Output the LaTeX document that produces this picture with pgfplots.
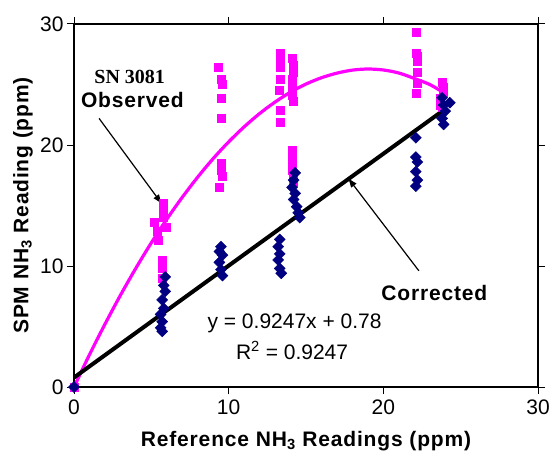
\documentclass[border=0pt]{standalone}
\usepackage{fontspec}
\setmainfont{Liberation Sans}
\newfontfamily\serifb{Liberation Serif}
\newfontfamily\spaced[LetterSpace=4]{Liberation Sans}
\usepackage{pgfplots}
\pgfplotsset{compat=1.18}
\usetikzlibrary{arrows.meta}
\definecolor{obs}{RGB}{255,0,255}
\definecolor{cor}{RGB}{0,0,128}
\begin{document}
\begin{tikzpicture}
\useasboundingbox (0,0) rectangle (549pt,453pt);
\begin{axis}[
  at={(74pt,66pt)}, anchor=south west,
  scale only axis, width=464pt, height=363pt,
  xmin=0, xmax=30, ymin=0, ymax=30,
  xtick={0,10,20,30}, ytick={0,10,20,30},
  tick align=outside, major tick length=7pt,
  tick style={black, line width=1pt},
  axis line style={line width=1.6pt},
  /pgf/number format/assume math mode=true,
  ticklabel style={font=\fontsize{21}{21}\selectfont},
  xticklabel style={yshift=-2pt},
  every axis x label/.style={at={(axis description cs:0.5,0)}, anchor=center, yshift=-54pt},
  every axis y label/.style={at={(axis description cs:0,0.5)}, anchor=center, rotate=90, yshift=51pt},
  xlabel={\spaced\bfseries\fontsize{21}{21}\selectfont Reference NH\textsubscript{3} Readings (ppm)},
  ylabel={\spaced\bfseries\fontsize{21}{21}\selectfont SPM NH\textsubscript{3} Reading (ppm)},
  clip=false,
]
% Observed curve (trendline)
\addplot[obs, line width=3.2pt, smooth, no marks] coordinates {
 (0,0) (1,2.67) (2,5.19) (3,7.58) (4,9.82) (5,11.92) (6,13.87) (7,15.68) (8,17.35)
 (9,18.88) (10,20.26) (11,21.50) (12,22.60) (13,23.55) (14,24.37) (15,25.04)
 (16,25.56) (17,25.94) (18,26.19) (19,26.28) (20,26.20) (21,25.95) (22,25.5)
 (23,25.0) (23.8,24.4)};
% Corrected fit line
\addplot[black, line width=4pt, no marks] coordinates {(0,0.78) (23.8,22.79)};
% Observed points
\addplot[only marks, mark=square*, mark size=4pt, obs, mark options={fill=obs, draw=obs}] coordinates {
 (0,0)
 (5.77,15.2) (5.77,14.6) (5.77,14.0) (5.2,13.6) (5.4,12.9) (5.95,13.2) (5.44,12.1)
 (5.7,10.5) (5.7,9.8) (5.7,9.0)
 (9.33,26.4) (9.5,25.4) (9.6,25.0) (9.5,23.9) (9.5,22.2) (9.5,18.5) (9.5,17.9) (9.55,17.4) (9.4,16.5)
 (13.3,27.6) (13.3,27.0) (13.3,26.4) (13.3,25.4) (13.25,24.5) (13.3,22.9) (13.3,21.9)
 (14.1,27.2) (14.2,26.6) (14.2,26.0) (14.1,25.4) (14.1,24.7) (14.1,24.1) (14.2,23.6)
 (14.1,19.6) (14.1,19.0) (14.1,18.5) (14.1,17.9) (14.2,17.4) (14.2,16.9)
 (22.1,29.3) (22.1,27.6) (22.2,27.3) (22.2,26.9) (22.2,26.0) (22.2,25.1) (22.1,24.3)
 (23.8,25.2) (23.9,24.8) (23.9,24.4) (23.7,23.9) (23.7,23.3) (23.8,23.1)
};
% Corrected points
\addplot[only marks, mark=square*, mark size=3.9pt, cor, mark options={fill=cor, draw=cor, rotate=45}] coordinates {
 (0,0)
 (5.9,9.1) (5.8,8.4) (5.9,7.9) (5.7,7.2) (5.8,6.5) (5.6,6.0) (5.7,5.4) (5.6,4.9) (5.7,4.6)
 (9.5,11.6) (9.4,11.2) (9.6,10.9) (9.4,10.3) (9.5,9.7) (9.6,9.2)
 (13.3,12.2) (13.2,11.6) (13.3,11.0) (13.2,10.5) (13.3,9.8) (13.4,9.4)
 (14.3,17.7) (14.2,17.1) (14.1,16.5) (14.3,16.0) (14.2,15.5) (14.4,14.9) (14.5,14.4) (14.6,14.0)
 (22.1,20.6) (22.1,19.0) (22.2,18.6) (22.1,17.8) (22.2,17.1) (22.1,16.6)
 (24.3,23.5) (23.8,23.9) (23.9,23.3) (24.0,22.8) (23.8,22.2) (23.9,21.7)
};
% annotations
\node[font=\serifb\bfseries\fontsize{20}{20}\selectfont] at (axis cs:3.6,25.6) {SN 3081};
\node[font=\spaced\bfseries\fontsize{21}{21}\selectfont] at (axis cs:3.78,23.75) {Observed};
\draw[-{Latex[length=10pt,width=7pt]}, line width=1.2pt] (axis cs:1.62,22.2) -- (axis cs:5.7,15.1);
\node[font=\spaced\bfseries\fontsize{21}{21}\selectfont] at (axis cs:23.3,7.8) {Corrected};
\draw[-{Latex[length=10pt,width=7pt]}, line width=1.2pt] (axis cs:22.3,9.6) -- (axis cs:17.7,17.3);
\node[font=\fontsize{21}{21}\selectfont] at (axis cs:14.26,5.3) {y = 0.9247x + 0.78};
\node[font=\fontsize{21}{21}\selectfont] at (axis cs:14.1,3.0) {R\textsuperscript{2} = 0.9247};
\end{axis}
\end{tikzpicture}
\end{document}
